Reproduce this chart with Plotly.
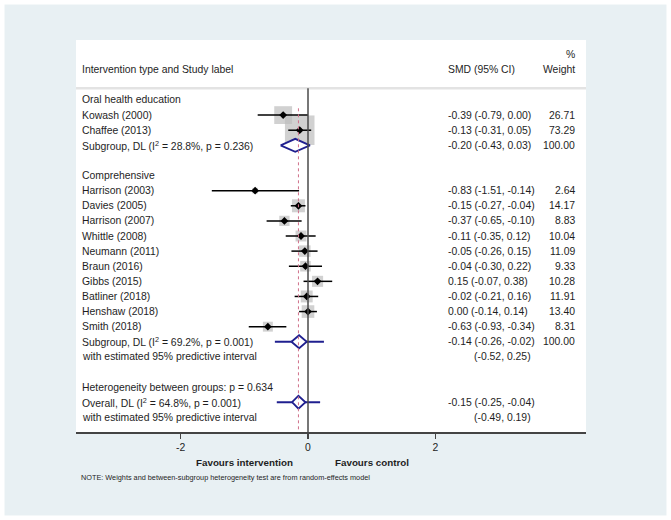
import math
import plotly.graph_objects as go

# ---------------- data ----------------
row_labels = [
    "Oral health education",
    "Kowash (2000)",
    "Chaffee (2013)",
    "Subgroup, DL (I<sup>2</sup> = 28.8%, p = 0.236)",
    "",
    "Comprehensive",
    "Harrison (2003)",
    "Davies (2005)",
    "Harrison (2007)",
    "Whittle (2008)",
    "Neumann (2011)",
    "Braun (2016)",
    "Gibbs (2015)",
    "Batliner (2018)",
    "Henshaw (2018)",
    "Smith (2018)",
    "Subgroup, DL (I<sup>2</sup> = 69.2%, p = 0.001)",
    "with estimated 95% predictive interval",
    "",
    "Heterogeneity between groups: p = 0.634",
    "Overall, DL (I<sup>2</sup> = 64.8%, p = 0.001)",
    "with estimated 95% predictive interval",
]
row_kind = ["header", "study", "study", "pooled", "blank", "header",
            "study", "study", "study", "study", "study", "study", "study",
            "study", "study", "study", "pooled", "pi", "blank", "note",
            "overall", "pi"]
es = [None, -0.39, -0.13, -0.20, None, None,
      -0.83, -0.15, -0.37, -0.11, -0.05, -0.04, 0.15, -0.02, 0.00, -0.63,
      -0.14, None, None, None, -0.15, None]
ci_lo = [None, -0.79, -0.31, -0.43, None, None,
         -1.51, -0.27, -0.65, -0.35, -0.26, -0.30, -0.07, -0.21, -0.14, -0.93,
         -0.26, None, None, None, -0.25, None]
ci_hi = [None, 0.00, 0.05, 0.03, None, None,
         -0.14, -0.04, -0.10, 0.12, 0.15, 0.22, 0.38, 0.16, 0.14, -0.34,
         -0.02, None, None, None, -0.04, None]
pi_lo = [None] * 17 + [-0.52] + [None] * 3 + [-0.49]
pi_hi = [None] * 17 + [0.25] + [None] * 3 + [0.19]
weight = [None, 26.71, 73.29, 100.00, None, None,
          2.64, 14.17, 8.83, 10.04, 11.09, 9.33, 10.28, 11.91, 13.40, 8.31,
          100.00, None, None, None, None, None]

tick_vals = [-2, 0, 2]
tick_text = ["-2", "0", "2"]
header_label = "Intervention type and Study label"
header_smd = "SMD (95% CI)"
header_weight = "Weight"
header_pct = "%"
favours_left = "Favours intervention"
favours_right = "Favours control"
note_text = "NOTE: Weights and between-subgroup heterogeneity test are from random-effects model"

# ---------------- styling ----------------
FONT = "Liberation Sans, Arial, sans-serif"
TXT = "#1e1e1e"
NAVY = "#1f1f8f"
BOX = "#bdbdbd"
BG = "#e8f0f3"

X_MIN, X_MAX = -3.642, 4.364
X_LABEL = -3.58
X_SMD = 2.16
X_PI = 2.57
X_W = 4.23
BOX_K = 3.45
DIA_H = 0.43

rows = list(range(len(row_labels)))
fig = go.Figure()

# boxes
bx, by, bs = [], [], []
for r in rows:
    if row_kind[r] == "study":
        bx.append(es[r]); by.append(r); bs.append(BOX_K * math.sqrt(weight[r]))
fig.add_trace(go.Scatter(x=bx, y=by, mode="markers",
                         marker=dict(symbol="square", size=bs, color=BOX,
                                     line=dict(width=0)),
                         hoverinfo="skip", showlegend=False))

# CI lines
cx, cy = [], []
for r in rows:
    if row_kind[r] == "study":
        cx += [ci_lo[r], ci_hi[r], None]; cy += [r, r, None]
fig.add_trace(go.Scatter(x=cx, y=cy, mode="lines",
                         line=dict(color="black", width=1.5),
                         hoverinfo="skip", showlegend=False))

# point estimates
fig.add_trace(go.Scatter(x=bx, y=by, mode="markers",
                         marker=dict(symbol="diamond", size=6, color="black"),
                         hoverinfo="skip", showlegend=False))

# predictive interval lines (drawn on the pooled row above)
for r in rows:
    if row_kind[r] == "pi":
        fig.add_trace(go.Scatter(x=[pi_lo[r], pi_hi[r]], y=[r - 1, r - 1],
                                 mode="lines", line=dict(color=NAVY, width=2),
                                 hoverinfo="skip", showlegend=False))

# pooled diamonds
for r in rows:
    if row_kind[r] in ("pooled", "overall"):
        fig.add_trace(go.Scatter(
            x=[ci_lo[r], es[r], ci_hi[r], es[r], ci_lo[r]],
            y=[r, r - DIA_H, r, r + DIA_H, r],
            mode="lines", fill="toself", fillcolor="white",
            line=dict(color=NAVY, width=1.8),
            hoverinfo="skip", showlegend=False))

overall_es = [es[r] for r in rows if row_kind[r] == "overall"][0]
n_rows = len(rows)
y_top, y_bot = -3.97, n_rows - 0.03

shapes = [
    # header separator
    dict(type="line", xref="paper", x0=0, x1=1, yref="y", y0=-0.77, y1=-0.77,
         line=dict(color="#e3e3e3", width=2.5), layer="above"),
    # null line
    dict(type="line", xref="x", x0=0, x1=0, yref="y", y0=-0.77, y1=y_bot,
         line=dict(color="#4a4a4a", width=1.5), layer="above"),
    # overall effect line
    dict(type="line", xref="x", x0=overall_es, x1=overall_es, yref="y",
         y0=0.55, y1=y_bot,
         line=dict(color="#d0708a", width=1, dash="3px,3px"), layer="above"),
    # white outer frame
    dict(type="rect", xref="paper", yref="paper",
         x0=-76 / 510, x1=595 / 510, y0=-88 / 392, y1=432 / 392,
         line=dict(color="white", width=9), fillcolor="rgba(0,0,0,0)",
         layer="below"),
]

ann = []
def add_text(x, y, text, anchor="left", size=10.4, bold=False, xref="x", yref="y"):
    ann.append(dict(x=x, y=y, xref=xref, yref=yref, text=("<b>%s</b>" % text) if bold else text,
                    showarrow=False, xanchor=anchor, yanchor="middle",
                    font=dict(family=FONT, size=size, color=TXT)))

# headers
add_text(X_LABEL, -2, header_label)
add_text(X_SMD, -2, header_smd)
add_text(X_W, -2, header_weight, anchor="right")
add_text(X_W, -3, header_pct, anchor="right")

for r in rows:
    if row_labels[r]:
        add_text(X_LABEL, r, row_labels[r])
    if es[r] is not None:
        add_text(X_SMD, r, "%.2f (%.2f, %.2f)" % (es[r], ci_lo[r], ci_hi[r]))
    if weight[r] is not None:
        add_text(X_W, r, "%.2f" % weight[r], anchor="right")
    if pi_lo[r] is not None:
        add_text(X_PI, r, "(%.2f, %.2f)" % (pi_lo[r], pi_hi[r]))

add_text(-1.0, -0.0783, favours_left, anchor="center", size=9.8, bold=True, yref="paper")
add_text(1.0, -0.0783, favours_right, anchor="center", size=9.8, bold=True, yref="paper")
add_text(X_LABEL - 0.01, -0.117, note_text, size=7.3, yref="paper")

fig.update_layout(
    width=671, height=520, autosize=False,
    margin=dict(l=76, r=85, t=40, b=88, pad=0),
    paper_bgcolor=BG, plot_bgcolor="white",
    shapes=shapes, annotations=ann,
    font=dict(family=FONT, size=10.4, color=TXT),
    showlegend=False,
)
fig.update_xaxes(range=[X_MIN, X_MAX], tickvals=tick_vals, ticktext=tick_text,
                 showgrid=False, zeroline=False, showline=True,
                 linecolor="#444444", linewidth=1.5, ticks="outside",
                 ticklen=5, tickwidth=1.5, tickcolor="#444444",
                 tickfont=dict(family=FONT, size=10.4, color=TXT),
                 fixedrange=True)
fig.update_yaxes(range=[y_bot, y_top], visible=False, showgrid=False,
                 zeroline=False, fixedrange=True)

fig.write_html("out.html", config={"displayModeBar": False, "staticPlot": True},
               post_script="document.body.style.margin='0';document.body.style.padding='0';")
